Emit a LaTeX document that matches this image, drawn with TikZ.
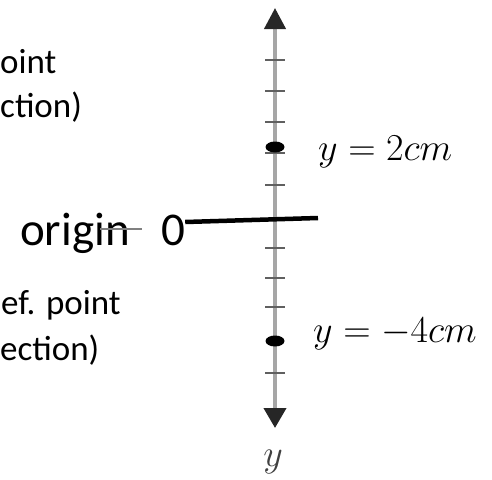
\RequirePackage{fix-cm}
\documentclass[tikz,border=0pt]{standalone}
\usepackage{fontspec}
\setmainfont{Carlito}
\usepackage{tikz}
\usetikzlibrary{arrows.meta, positioning, shapes.geometric}

\begin{document}
\begin{tikzpicture}[x=1pt, y=-1pt,
    txt/.style={inner sep=0pt, anchor=base west, font=\fontsize{35}{40}\selectfont},
    eqn/.style={inner sep=0pt, anchor=base west, font=\fontsize{38}{44}\selectfont},
    tickmark/.style={gray!75!black, line width=2pt},
    spot/.style={ellipse, fill=black, inner sep=0pt, minimum width=19pt, minimum height=11pt}]
    \useasboundingbox (0,0) rectangle (492,479);
    % axis with its two heads
    \coordinate (top) at (275,8);
    \coordinate (bot) at (275,428);
    \draw[gray!70, line width=4pt,
        {Triangle[length=20pt, width=22pt, color=black!85]}-{Triangle[length=21pt, width=21pt, color=black!85]}]
        (bot) -- (top);
    \foreach \t in {60,91,122,153,185,248,278,307,373}
        \draw[tickmark] (265,\t) -- (285,\t);
    \node[inner sep=0pt, font=\fontsize{38}{42}\selectfont, text=black!75] (ylab) at (273,462) {$y$};
    % left labels
    \node[txt] (up1) at (0,73) {oint};
    \node[txt] (up2) at (0,117) {ction)};
    \node[txt] (dn1) at (1,314) {ef. point};
    \node[txt] (dn2) at (0,360) {ection)};
    % origin
    \node[inner sep=0pt, anchor=base west, font=\fontsize{47}{50}\selectfont] (orig) at (20,245) {origin};
    \node[inner sep=0pt, anchor=base west, font=\fontsize{47}{50}\selectfont] (zero) at (161,245) {0};
    \draw[gray, line width=1.5pt] (100,229) -- (142,229);
    \coordinate (oend) at (318,218);
    \draw[black, line width=4.5pt] (zero.east |- 0,222) -- (oend);
    % the two points
    \node[spot] (p1) at (275,147) {};
    \node[spot] (p2) at (275,341) {};
    \node[eqn] (l1) at (318,160) {$y = 2cm$};
    \node[eqn] (l2) at (313,342) {$y = -4cm$};
\end{tikzpicture}
\end{document}
